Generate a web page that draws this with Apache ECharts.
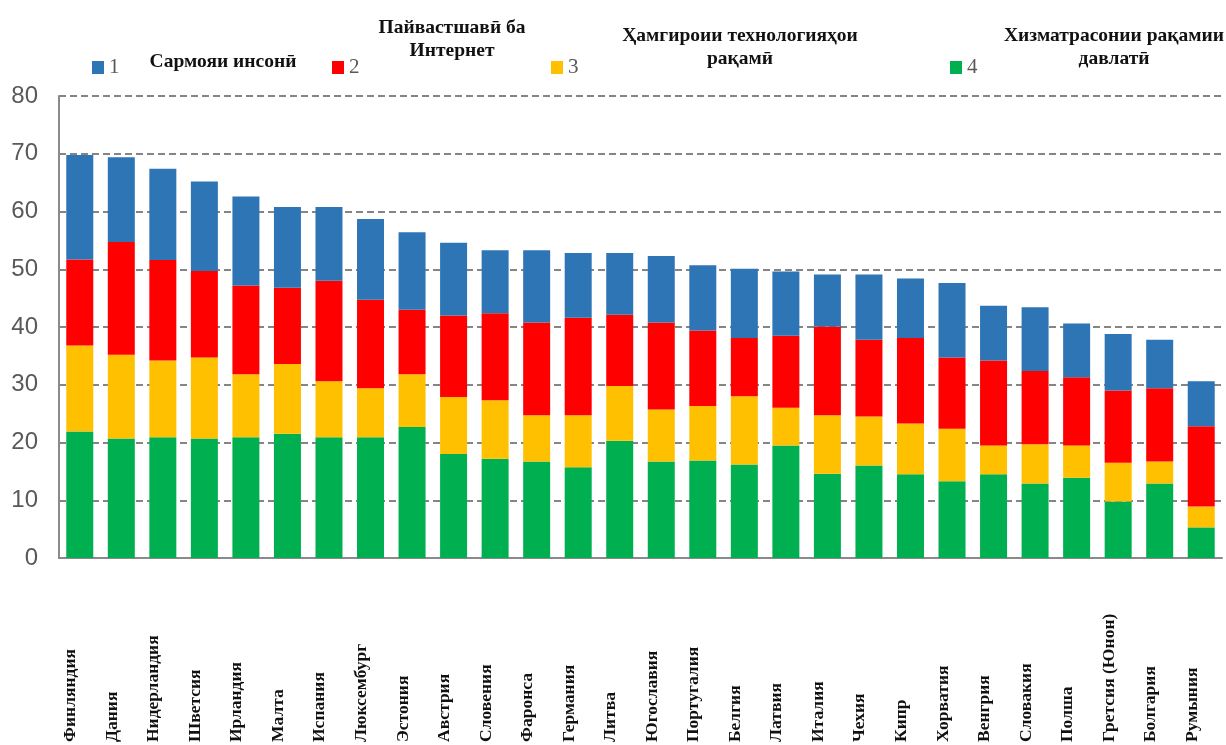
<!DOCTYPE html>
<html>
<head>
<meta charset="utf-8">
<script src="https://cdn.jsdelivr.net/npm/echarts@6/dist/echarts.min.js"></script>
<style>
html,body{margin:0;padding:0;background:#fff;}
#chart{width:1226px;height:745px;}
</style>
</head>
<body>
<div id="chart"></div>
<script>
const categories = ['Финляндия','Дания','Нидерландия','Шветсия','Ирландия','Малта','Испания','Люксембург','Эстония','Австрия','Словения','Фаронса','Германия','Литва','Югославия','Португалия','Белгия','Латвия','Италия','Чехия','Кипр','Хорватия','Венгрия','Словакия','Полша','Гретсия (Юнон)','Болгария','Румыния'];
// 4 - bottom (green)
const series4 = [21.9,20.7,20.9,20.7,20.9,21.5,20.9,20.9,22.7,18.0,17.2,16.7,15.7,20.3,16.7,16.9,16.2,19.5,14.6,16.0,14.5,13.3,14.5,12.9,13.9,9.8,12.9,5.3];
// 3 - yellow
const series3 = [14.9,14.5,13.3,14.0,10.9,12.1,9.7,8.5,9.1,9.9,10.1,8.0,9.0,9.5,9.0,9.4,11.8,6.5,10.1,8.5,8.8,9.1,5.0,6.8,5.6,6.7,3.8,3.6];
// 2 - red
const series2 = [14.9,19.5,17.4,15.0,15.4,13.2,17.4,15.3,11.2,14.1,15.1,16.1,16.9,12.3,15.1,13.1,10.1,12.5,15.4,13.3,14.8,12.3,14.7,12.7,11.8,12.5,12.7,13.9];
// 1 - blue (top)
const series1 = [18.1,14.7,15.8,15.5,15.4,14.0,12.8,14.0,13.4,12.6,10.9,12.5,11.2,10.7,11.5,11.3,12.0,11.1,9.0,11.3,10.3,12.9,9.5,11.0,9.3,9.8,8.4,7.8];
const yTicks = {min:0, max:80, interval:10};
const seriesNames = ['1','2','3','4'];
const legendTitles = ['Сармояи инсонӣ','Пайвастшавӣ ба\nИнтернет','Ҳамгироии технологияҳои\nрақамӣ','Хизматрасонии рақамии\nдавлатӣ'];

const colors = {'1':'#2E75B6','2':'#FF0000','3':'#FFC000','4':'#00B050'};
const chart = echarts.init(document.getElementById('chart'), null, {renderer:'canvas'});

function mkLegend(name, left){
  return {
    data:[name], left:left, top:57, padding:0, itemWidth:12, itemHeight:13, itemGap:0,
    icon:'rect', selectedMode:false,
    textStyle:{fontFamily:'Liberation Serif', fontSize:21, color:'#595959', padding:[0,0,0,0]}
  };
}
const titleStyle = {fontFamily:'Liberation Serif', fontWeight:'bold', fontSize:19.5, fill:'#111', textAlign:'center', textVerticalAlign:'middle', lineHeight:23};

const option = {
  animation:false,
  backgroundColor:'#fff',
  color:[colors['4'],colors['3'],colors['2'],colors['1']],
  legend:[mkLegend('1',92), mkLegend('2',332), mkLegend('3',551), mkLegend('4',950)],
  graphic:[
    {type:'text', x:223, y:62, style:Object.assign({text:legendTitles[0]}, titleStyle)},
    {type:'text', x:452, y:39, style:Object.assign({text:legendTitles[1]}, titleStyle)},
    {type:'text', x:740, y:47, style:Object.assign({text:legendTitles[2]}, titleStyle)},
    {type:'text', x:1114, y:47, style:Object.assign({text:legendTitles[3]}, titleStyle)}
  ],
  grid:{left:59, right:4, top:96, bottom:185, containLabel:false},
  xAxis:{
    type:'category', data:categories,
    axisLine:{show:true, lineStyle:{color:'#8a8a8a', width:2}},
    axisTick:{show:false},
    axisLabel:{interval:0, rotate:90, align:'left', verticalAlign:'bottom', margin:184,
      fontFamily:'Liberation Serif', fontWeight:'bold', fontSize:17.5, color:'#111'}
  },
  yAxis:{
    type:'value', min:yTicks.min, max:yTicks.max, interval:yTicks.interval,
    axisLine:{show:true, lineStyle:{color:'#8a8a8a', width:2}},
    axisTick:{show:false},
    axisLabel:{fontFamily:'Liberation Sans', fontSize:24, color:'#595959', margin:21},
    splitLine:{show:true, lineStyle:{color:'#858585', width:2, type:[7,4]}}
  },
  series:[
    {name:'4', type:'bar', stack:'s', data:series4, barWidth:'65%', itemStyle:{color:colors['4']}},
    {name:'3', type:'bar', stack:'s', data:series3, itemStyle:{color:colors['3']}},
    {name:'2', type:'bar', stack:'s', data:series2, itemStyle:{color:colors['2']}},
    {name:'1', type:'bar', stack:'s', data:series1, itemStyle:{color:colors['1']}}
  ]
};
chart.setOption(option);
</script>
</body>
</html>
